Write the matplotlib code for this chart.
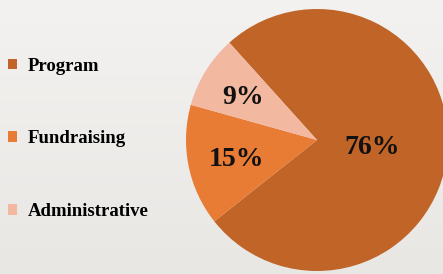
import numpy as np
import matplotlib
matplotlib.use("Agg")
import matplotlib.pyplot as plt
from matplotlib.colors import LinearSegmentedColormap

categories = ["Program", "Fundraising", "Administrative"]
values = [76, 15, 9]
colors = ["#c06428", "#e97c35", "#f2b8a0"]
label_dist = [0.42, 0.63, 0.66]

W, H = 443, 274
fig = plt.figure(figsize=(W / 100, H / 100), dpi=100)

# background gradient
bg = fig.add_axes([0, 0, 1, 1], zorder=0)
cmap = LinearSegmentedColormap.from_list("bg", ["#f3f2f0", "#e8e7e4"])
bg.imshow(np.linspace(0, 1, 256).reshape(-1, 1), aspect="auto", cmap=cmap,
          extent=[0, 1, 0, 1])
bg.axis("off")

cx, cy, r = 317, 140, 131
ax = fig.add_axes([(cx - r) / W, (H - cy - r) / H, 2 * r / W, 2 * r / H], zorder=1)
ax.patch.set_alpha(0)
wedges, texts, autotexts = ax.pie(
    values, colors=colors, startangle=132, counterclock=False,
    autopct="%d%%", pctdistance=0.65, radius=1,
    textprops=dict(family=["Liberation Serif"], fontsize=20, weight="bold",
                   color="#111111"),
    wedgeprops=dict(linewidth=0))
for w, t, d in zip(wedges, autotexts, label_dist):
    ang = np.deg2rad((w.theta1 + w.theta2) / 2)
    t.set_position((d * np.cos(ang), d * np.sin(ang) - 0.025))
ax.set_xlim(-1, 1)
ax.set_ylim(-1, 1)
ax.set_aspect("auto")
ax.axis("off")

leg = fig.legend(wedges, categories, loc="upper left",
                 bbox_to_anchor=(0.018, 0.79), frameon=False, borderpad=0,
                 borderaxespad=0,
                 prop=dict(family=["Liberation Serif"], weight="bold", size=13.5),
                 handlelength=0.5, handleheight=0.5, handletextpad=0.55,
                 labelspacing=2.98)

fig.savefig("out.png", dpi=100)
